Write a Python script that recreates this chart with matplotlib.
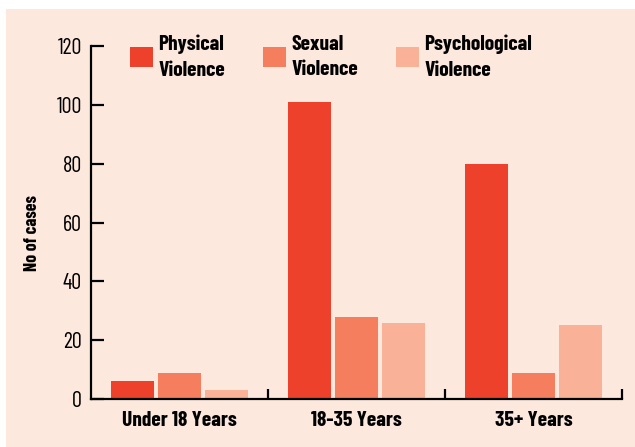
import matplotlib.pyplot as plt
from matplotlib.patches import Rectangle, Patch
import numpy as np

plt.rcParams['font.family'] = ['Barlow Condensed', 'DejaVu Sans']

# Datos
groups = ['Under 18 Years', '18-35 Years', '35+ Years']
series = ['Physical\nViolence', 'Sexual\nViolence', 'Psychological\nViolence']
physical = [6, 101, 80]
sexual = [9, 28, 9]
psychological = [3, 26, 25]

colors = ['#EE412C', '#F47E5E', '#F9B297']
bg = '#FDE8DD'

W, H = 635, 447
fig = plt.figure(figsize=(W / 100, H / 100), dpi=100, facecolor='white')
fig.add_artist(Rectangle((6 / W, 0), 1, 1 - 9 / H, transform=fig.transFigure,
                         facecolor=bg, edgecolor='none', zorder=-10))
ax = fig.add_axes([91 / W, 1 - 399 / H, (622 - 91) / W, (399 - 46) / H])
ax.patch.set_alpha(0)

centers = np.arange(len(groups)) + 0.5
width = 0.241
step = 0.2655
for i, (vals, col, lab) in enumerate(zip([physical, sexual, psychological], colors, series)):
    ax.bar(centers + (i - 1) * step, vals, width, color=col, label=lab, zorder=2)

ax.set_xlim(0, 3)
ax.set_ylim(0, 120)
ax.set_yticks(np.arange(0, 121, 20))
ax.set_xticks(centers)
ax.set_xticklabels(groups, fontsize=15.5, fontweight='bold')
ax.set_xticks([1, 2, 3], minor=True)
ax.tick_params(axis='x', which='major', length=0, pad=9)
ax.tick_params(axis='x', which='minor', direction='in', length=7, width=1.6)
ax.tick_params(axis='y', direction='in', length=9.4, width=1.6, labelsize=16, pad=6.5)

for s in ['top', 'right']:
    ax.spines[s].set_visible(False)
for s in ['left', 'bottom']:
    ax.spines[s].set_linewidth(1.6)
    ax.spines[s].set_zorder(3)

ax.set_ylabel('No of cases', fontsize=13, fontweight='bold')
ax.yaxis.set_label_coords(-0.095, 0.47)

handles = [Patch(facecolor=c, edgecolor='none') for c in colors]
leg = ax.legend(handles, series, ncol=3, frameon=False, loc='upper left',
                bbox_to_anchor=((130 - 91) / 531, (399 - 35) / 353),
                prop={'weight': 'bold', 'size': 15.5}, borderpad=0, borderaxespad=0,
                handlelength=1.07, handleheight=1.05, handletextpad=0.25,
                columnspacing=1.75, labelspacing=0.1)
for t in leg.get_texts():
    t.set_linespacing(1.4)

plt.savefig('out.png', dpi=100, facecolor='white')
